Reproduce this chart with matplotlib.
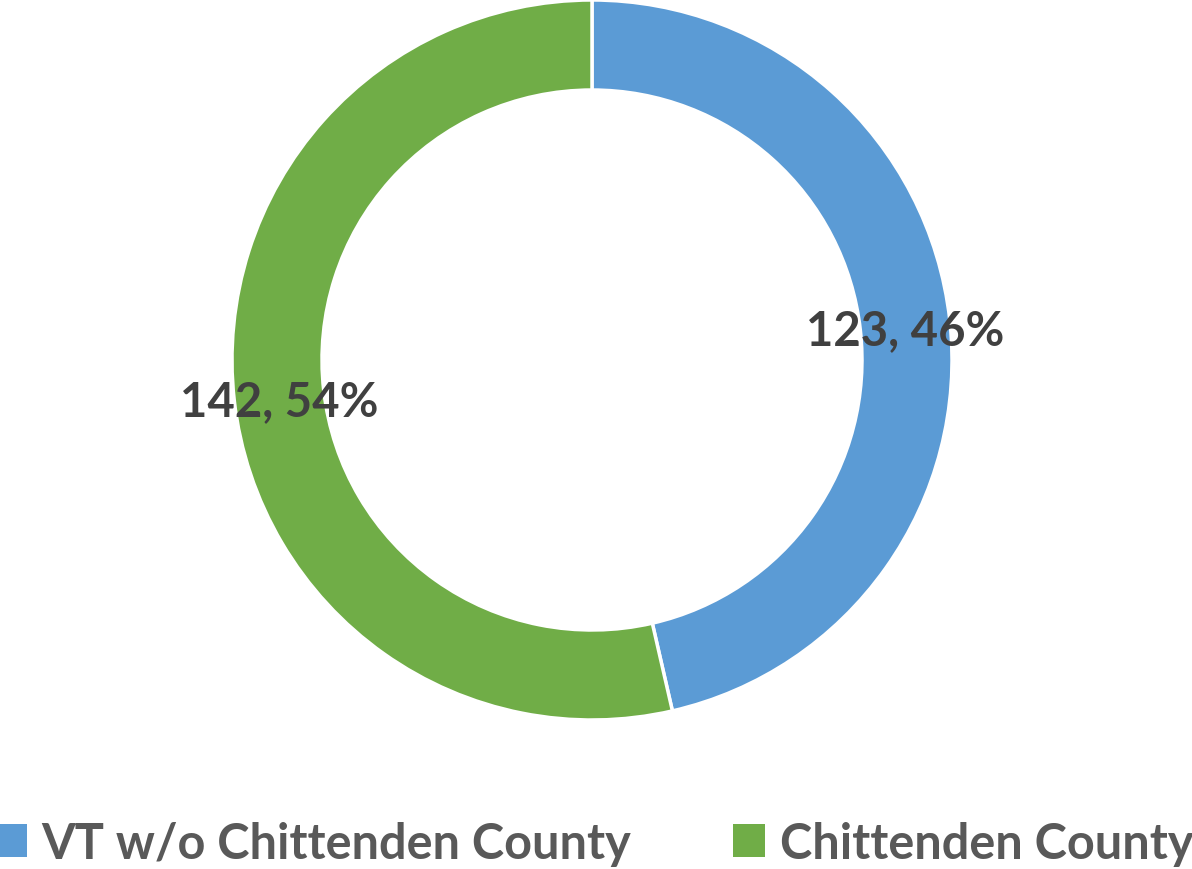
import numpy as np
import matplotlib.pyplot as plt
from matplotlib.patches import Patch

# Data
categories = ['VT w/o Chittenden County', 'Chittenden County']
counts = [123, 142]
colors = ['#5B9BD5', '#70AD47']

plt.rcParams['font.family'] = ['Lato', 'DejaVu Sans']

fig = plt.figure(figsize=(11.92, 8.70), dpi=100)
ax = fig.add_axes([232 / 1192, 149 / 870, 720 / 1192, 720 / 870])

ring_width = 0.25
wedges, _ = ax.pie(counts, colors=colors, startangle=90, counterclock=False,
                   radius=1.0, wedgeprops=dict(width=ring_width, edgecolor='white', linewidth=2.5))
ax.set_xlim(-1, 1)
ax.set_ylim(-1, 1)
ax.set_aspect('equal')
ax.axis('off')

# Data labels on ring centreline
total = sum(counts)
r_lab = 1.0 - ring_width / 2
for w, c in zip(wedges, counts):
    ang = np.deg2rad((w.theta1 + w.theta2) / 2)
    ax.text(r_lab * np.cos(ang), r_lab * np.sin(ang) - 0.015,
            '{0}, {1:.0f}%'.format(c, 100 * c / total),
            ha='center', va='center', fontsize=34, fontweight='bold', color='#404040')

handles = [Patch(facecolor=c, edgecolor='none') for c in colors]
fig.legend(handles, categories, loc='lower center', bbox_to_anchor=(0.4985, -0.024),
           ncol=2, frameon=False, prop=dict(size=35, weight='bold'), labelcolor='#595959',
           handlelength=0.66, handleheight=0.66, handletextpad=0.3,
           columnspacing=2.1, borderpad=0.0)

fig.savefig('out.png', dpi=100)
